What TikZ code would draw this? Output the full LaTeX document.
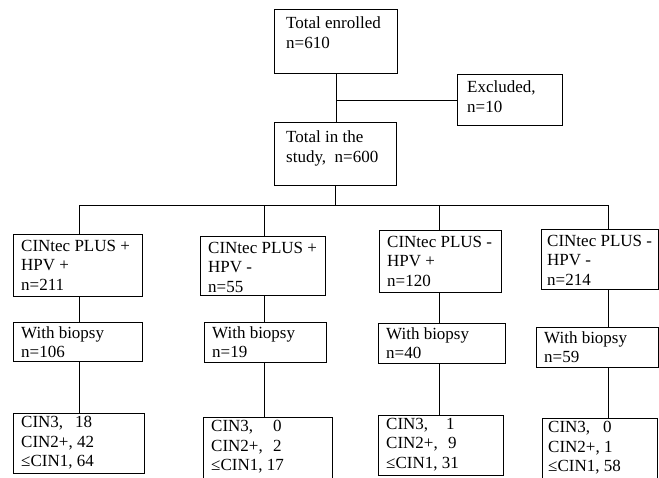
\documentclass[tikz,border=0pt]{standalone}
\usepackage{fontspec}
\setmainfont{Liberation Serif}
\usetikzlibrary{calc}
\tikzset{
  box/.style={draw=black, line width=0.9pt, anchor=north west, inner sep=0pt},
  txt/.style={anchor=north west, align=left, inner xsep=8pt, inner ysep=6pt,
    font=\fontsize{17}{19.5}\selectfont},
  link/.style={draw=black, line width=0.9pt},
}

\begin{document}
\begin{tikzpicture}[x=1pt,y=-1pt]
  \useasboundingbox (0,0) rectangle (659,477);

  % enrolment
  \node[box, minimum width=123, minimum height=64,
    label={[txt, inner xsep=12pt, inner ysep=8pt]north west:{Total enrolled\\n=610}}] (tot) at (274,9) {};
  \node[box, minimum width=105, minimum height=51,
    label={[txt, inner xsep=10pt, inner ysep=7pt]north west:{Excluded,\\n=10}}] (excl) at (457,74) {};
  \node[box, minimum width=122, minimum height=63,
    label={[txt, inner xsep=12pt, inner ysep=9pt]north west:{Total in the\\study,\ \ n=600}}] (study) at (274,122) {};

  % test groups
  \node[box, minimum width=129, minimum height=62,
    label={[txt]north west:{CINtec PLUS +\\HPV +\\n=211}}] (c1) at (13,234) {};
  \node[box, minimum width=125, minimum height=59,
    label={[txt]north west:{CINtec PLUS +\\HPV -\\n=55}}] (c2) at (200,236) {};
  \node[box, minimum width=122, minimum height=62,
    label={[txt]north west:{CINtec PLUS -\\HPV +\\n=120}}] (c3) at (379,230) {};
  \node[box, minimum width=117, minimum height=60,
    label={[txt, inner xsep=6pt]north west:{CINtec PLUS -\\HPV -\\n=214}}] (c4) at (541,229) {};

  % biopsy
  \node[box, minimum width=129, minimum height=39,
    label={[txt, inner ysep=4pt]north west:{With biopsy\\n=106}}] (b1) at (13,322) {};
  \node[box, minimum width=122, minimum height=40,
    label={[txt, inner ysep=4pt]north west:{With biopsy\\n=19}}] (b2) at (204,322) {};
  \node[box, minimum width=127, minimum height=40,
    label={[txt, inner ysep=4pt]north west:{With biopsy\\n=40}}] (b3) at (378,323) {};
  \node[box, minimum width=122, minimum height=40,
    label={[txt, inner ysep=4pt]north west:{With biopsy\\n=59}}] (b4) at (536,327) {};

  % histology
  \node[box, minimum width=131, minimum height=60,
    label={[txt, inner ysep=3pt]north west:{\makebox[54pt][l]{CIN3,}18\\CIN2+, 42\\≤CIN1, 64}}] (r1) at (13,413) {};
  \node[box, minimum width=129, minimum height=62,
    label={[txt, inner ysep=3pt]north west:{\makebox[62pt][l]{CIN3,}0\\\makebox[62pt][l]{CIN2+,}2\\≤CIN1, 17}}] (r2) at (203,417) {};
  \node[box, minimum width=125, minimum height=60,
    label={[txt, inner ysep=3pt]north west:{\makebox[60pt][l]{CIN3,}1\\\makebox[62pt][l]{CIN2+,}9\\≤CIN1, 31}}] (r3) at (378,415) {};
  \node[box, minimum width=115, minimum height=60,
    label={[txt, inner xsep=6pt, inner ysep=3pt]north west:{\makebox[55pt][l]{CIN3,}0\\\makebox[56pt][l]{CIN2+,}1\\≤CIN1, 58}}] (r4) at (542,418) {};

  % connectors
  \draw[link] (tot.south) -- (tot.south |- study.north);
  \draw[link] (tot.south |- excl.west) -- (excl.west);
  \coordinate (bus) at ($(study.south)+(0,20)$);
  \draw[link] (study.south) -- (bus);
  \foreach \i/\x in {1/79, 2/264, 3/439, 4/608}
    \coordinate (k\i) at (\x,205);
  \draw[link] (k1) -- (k4);
  \foreach \i in {1,...,4} {
    \draw[link] (k\i) -- (k\i |- c\i.north);
    \draw[link] (k\i |- c\i.south) -- (k\i |- b\i.north);
    \draw[link] (k\i |- b\i.south) -- (k\i |- r\i.north);
  }
\end{tikzpicture}
\end{document}
